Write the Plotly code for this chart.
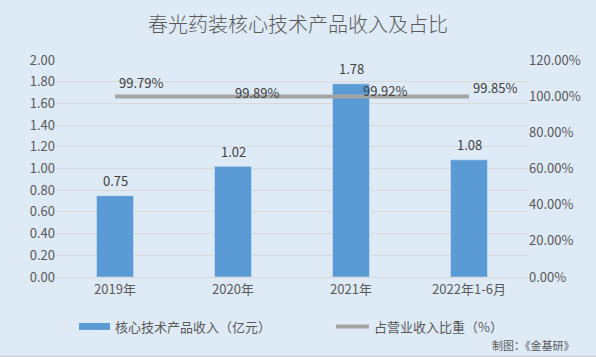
import plotly.graph_objects as go

categories = ["2019年", "2020年", "2021年", "2022年1-6月"]
revenue = [0.75, 1.02, 1.78, 1.08]
share = [0.9979, 0.9989, 0.9992, 0.9985]
share_labels = ["99.79%", "99.89%", "99.92%", "99.85%"]
left_ticks = [0, 0.2, 0.4, 0.6, 0.8, 1.0, 1.2, 1.4, 1.6, 1.8, 2.0]
right_ticks = [0, 0.2, 0.4, 0.6, 0.8, 1.0, 1.2]

FONT = "Microsoft YaHei, Noto Sans CJK SC, sans-serif"
TXT = "#595959"
BG = "#DEEAF6"

fig = go.Figure()
fig.add_trace(go.Bar(
    x=categories, y=revenue, marker_color="#5B9BD5",
    showlegend=False, name="核心技术产品收入（亿元）",
))
fig.add_trace(go.Scatter(
    x=categories, y=share, yaxis="y2", mode="lines",
    line=dict(color="#A5A5A5", width=4), showlegend=False,
    name="占营业收入比重（%）",
))

for c, v in zip(categories, revenue):
    fig.add_annotation(x=c, y=v, text=f"{v:.2f}", showarrow=False,
                       yanchor="middle", yshift=15,
                       font=dict(size=13, color="#404040", family=FONT))

shifts = [(26, 14), (24, 4), (34, 6), (26, 9)]
for c, v, lab, (dx, dy) in zip(categories, share, share_labels, shifts):
    fig.add_annotation(x=c, y=v, yref="y2", text=lab, showarrow=False,
                       xshift=dx, yshift=dy, yanchor="middle",
                       font=dict(size=13, color="#404040", family=FONT))

# legend (manual)
fig.add_shape(type="rect", xref="paper", yref="paper", x0=0.0487, x1=0.1144,
              y0=-0.244, y1=-0.212, fillcolor="#5B9BD5", line_width=0)
fig.add_annotation(xref="paper", yref="paper", x=0.1208, y=-0.228, xanchor="left",
                   yanchor="middle", text="核心技术产品收入（亿元）", showarrow=False,
                   font=dict(size=13, color=TXT, family=FONT))
fig.add_shape(type="line", xref="paper", yref="paper", x0=0.593, x1=0.663,
              y0=-0.228, y1=-0.228, line=dict(color="#A5A5A5", width=4))
fig.add_annotation(xref="paper", yref="paper", x=0.6695, y=-0.228, xanchor="left",
                   yanchor="middle", text="占营业收入比重（%）", showarrow=False,
                   font=dict(size=13, color=TXT, family=FONT))
fig.add_annotation(xref="paper", yref="paper", x=1.103, y=-0.313, xanchor="right",
                   yanchor="middle", text="制图：《金基研》", showarrow=False,
                   font=dict(size=11, color=TXT, family=FONT))
# thin bottom border
fig.add_shape(type="line", xref="paper", yref="paper", x0=-0.13, x1=1.16,
              y0=-0.3664, y1=-0.3664, line=dict(color="#D0D0D0", width=1.5))

fig.update_layout(
    width=596, height=357,
    margin=dict(l=56, r=68, t=60, b=80),
    paper_bgcolor=BG, plot_bgcolor=BG,
    font=dict(family=FONT, color=TXT, size=13),
    title=dict(text="春光药装核心技术产品收入及占比", x=0.5, xanchor="center",
               y=0.93, yanchor="middle",
               font=dict(size=20, color=TXT, family=FONT, weight=300)),
    bargap=0.686,
    xaxis=dict(showgrid=False, showline=True, linecolor="#D9D9D9", ticks="",
               tickfont=dict(size=13, color=TXT)),
    yaxis=dict(range=[0, 2.0], tickvals=left_ticks, tickformat=".2f",
               gridcolor="#D9D9D9", zeroline=False, ticks="",
               tickfont=dict(size=13, color=TXT)),
    yaxis2=dict(range=[0, 1.2], tickvals=right_ticks, tickformat=".2%",
                overlaying="y", side="right", showgrid=False, zeroline=False,
                tickfont=dict(size=13, color=TXT)),
)

fig.write_html(
    "out.html",
    config={"displayModeBar": False},
    post_script="document.body.style.margin='0';document.body.style.overflow='hidden';"
                "document.body.style.background='" + BG + "';",
)
